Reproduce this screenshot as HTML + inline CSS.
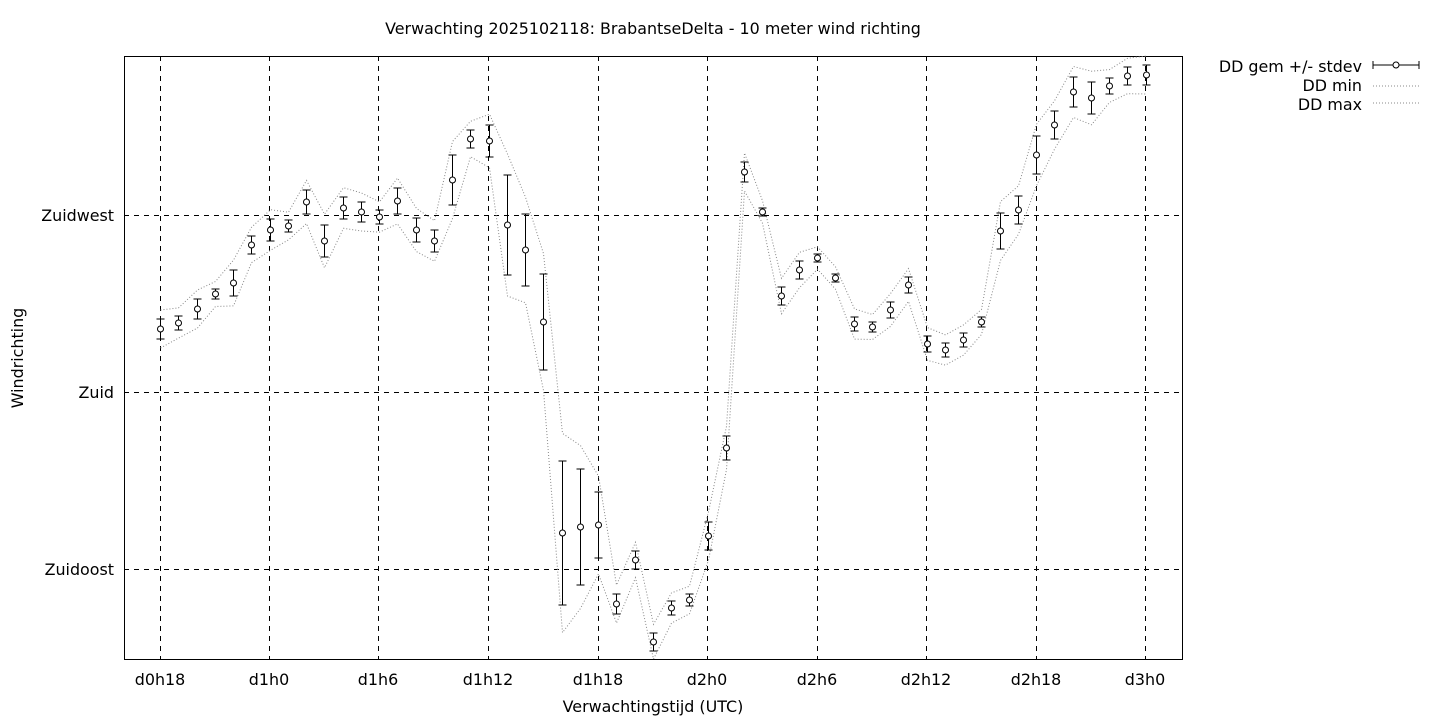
<!DOCTYPE html>
<html><head><meta charset="utf-8"><style>
html,body{margin:0;padding:0;background:#fff;}
svg{display:block;font-family:"DejaVu Sans","Liberation Sans",sans-serif;}
</style></head><body>
<svg id="s" width="1440" height="720" viewBox="0 0 1440 720" xmlns="http://www.w3.org/2000/svg">
<rect x="0" y="0" width="1440" height="720" fill="#fff"/>
<text x="653" y="34" font-size="15.9" text-anchor="middle">Verwachting 2025102118: BrabantseDelta - 10 meter wind richting</text>
<g stroke="#000" stroke-width="1" stroke-dasharray="5,5" fill="none" shape-rendering="crispEdges">
<line x1="160.5" y1="56" x2="160.5" y2="659"/><line x1="269.5" y1="56" x2="269.5" y2="659"/>
<line x1="378.5" y1="56" x2="378.5" y2="659"/><line x1="488.5" y1="56" x2="488.5" y2="659"/>
<line x1="598.5" y1="56" x2="598.5" y2="659"/><line x1="707.5" y1="56" x2="707.5" y2="659"/>
<line x1="817.5" y1="56" x2="817.5" y2="659"/><line x1="926.5" y1="56" x2="926.5" y2="659"/>
<line x1="1036.5" y1="56" x2="1036.5" y2="659"/><line x1="1145.5" y1="56" x2="1145.5" y2="659"/>
<line x1="124" y1="215.5" x2="1182" y2="215.5"/><line x1="124" y1="392.5" x2="1182" y2="392.5"/>
<line x1="124" y1="569.5" x2="1182" y2="569.5"/>
</g>
<rect x="124.5" y="56.5" width="1058" height="603" fill="none" stroke="#000" shape-rendering="crispEdges"/>
<g font-size="15.9" text-anchor="end">
<text x="114" y="221">Zuidwest</text><text x="114" y="398">Zuid</text><text x="114" y="575">Zuidoost</text>
</g>
<g font-size="15.9" text-anchor="middle">
<text x="160" y="685">d0h18</text><text x="269" y="685">d1h0</text><text x="378" y="685">d1h6</text>
<text x="488" y="685">d1h12</text><text x="598" y="685">d1h18</text><text x="707" y="685">d2h0</text>
<text x="817" y="685">d2h6</text><text x="926" y="685">d2h12</text><text x="1036" y="685">d2h18</text>
<text x="1145" y="685">d3h0</text>
<text x="653" y="712">Verwachtingstijd (UTC)</text>
</g>
<text x="23" y="358" font-size="15.9" text-anchor="middle" transform="rotate(-90 23 358)">Windrichting</text>
<g font-size="15.9" text-anchor="end">
<text x="1362" y="72">DD gem +/- stdev</text><text x="1362" y="91">DD min</text><text x="1362" y="110">DD max</text>
</g>
<g stroke="#000" fill="none">
<line x1="1373" y1="65" x2="1419" y2="65"/><line x1="1373" y1="61" x2="1373" y2="69"/><line x1="1419" y1="61" x2="1419" y2="69"/>
<circle cx="1396" cy="65" r="3" fill="#fff"/>
</g>
<g stroke="#888" stroke-dasharray="1,2" fill="none">
<line x1="1373" y1="86" x2="1419" y2="86"/><line x1="1373" y1="103" x2="1419" y2="103"/>
</g>
<g id="d"></g>
</svg>
<script>
var P=[[329,10],[323,7],[309,10],[294,5],[283,13],[245,9],[230,11],[226,6],[202,12],[241,16],[208,11],[212,10],[217,7],[201,13],[230,12],[241,11],[180,25],[139,9],[141,16],[225,50],[250,36],[322,48],[533,72],[527,58],[525,33],[604,10],[560,9],[642,9],[608,7],[600,6],[536,14],[448,12],[172,10],[212,4],[296,9],[270,9],[258,4],[278,4],[324,7],[327,5],[310,8],[285,8],[344,8],[350,7],[340,7],[322,5],[231,18],[210,14],[155,19],[125,14],[92,15],[98,16],[86,8],[76,9],[75,10]];
var g=document.getElementById('d'),h='';
var lo=[],hi=[];
P.forEach(function(p,i){var x=Math.round(160+i*18.25)+0.5,y=p[0],e=p[1];
h+='<line x1="'+x+'" y1="'+(y-e)+'" x2="'+x+'" y2="'+(y+e)+'" stroke="#000"/>';
h+='<line x1="'+(x-4)+'" y1="'+(y-e)+'" x2="'+(x+4)+'" y2="'+(y-e)+'" stroke="#000"/>';
h+='<line x1="'+(x-4)+'" y1="'+(y+e)+'" x2="'+(x+4)+'" y2="'+(y+e)+'" stroke="#000"/>';
h+='<circle cx="'+x+'" cy="'+y+'" r="3" fill="#fff" stroke="#000"/>';
lo.push(x+','+Math.min(659,y+e*1.3+6));hi.push(x+','+Math.max(56,y-e*1.3-6));});
h='<polyline points="'+lo.join(' ')+'" fill="none" stroke="#888" stroke-dasharray="1,2"/><polyline points="'+hi.join(' ')+'" fill="none" stroke="#888" stroke-dasharray="1,2"/>'+h;
g.innerHTML=h;
</script>
</body></html>
